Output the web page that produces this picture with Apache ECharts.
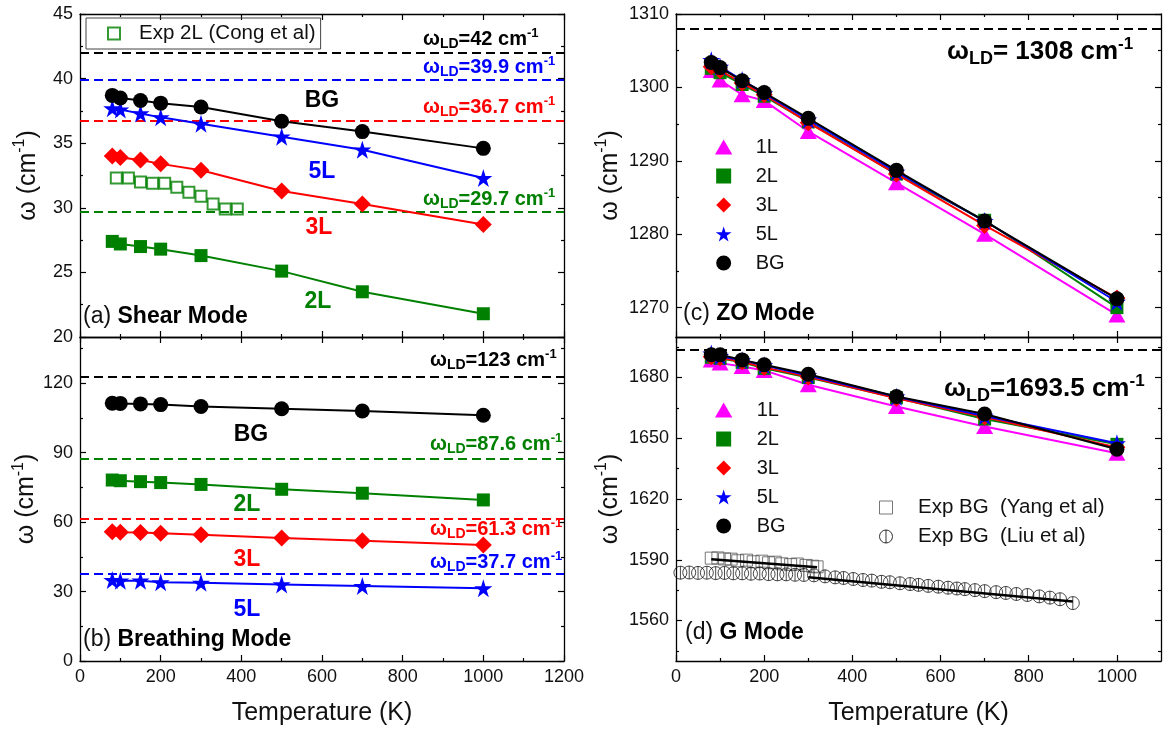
<!DOCTYPE html>
<html><head><meta charset="utf-8">
<script src="https://cdn.jsdelivr.net/npm/echarts@6/dist/echarts.min.js"></script>
<style>html,body{margin:0;padding:0;background:#fff}#c{width:1170px;height:731px}</style>
</head><body><div id="c"></div>
<script>
// ---------------- data ----------------
const tempTheory = [80, 100, 150, 200, 300, 500, 700, 1000];
// (a) shear mode
const shearBG = [38.7, 38.5, 38.3, 38.1, 37.8, 36.7, 35.9, 34.6];
const shear5L = [37.7, 37.6, 37.3, 37.0, 36.5, 35.5, 34.5, 32.3];
const shear3L = [34.0, 33.9, 33.7, 33.4, 32.9, 31.3, 30.3, 28.7];
const shear2L = [27.4, 27.2, 27.0, 26.8, 26.3, 25.1, 23.5, 21.8];
const congTemp = [90, 120, 150, 180, 210, 240, 270, 300, 330, 360, 390];
const cong2L = [32.3, 32.3, 32.0, 31.9, 31.9, 31.6, 31.2, 30.9, 30.3, 29.9, 29.9];
const ldShear = [42, 39.9, 36.7, 29.7];
// (b) breathing mode
const breathBG = [111.4, 111.3, 111.1, 110.8, 110.0, 109.0, 108.0, 106.2];
const breath2L = [78.2, 77.9, 77.5, 77.1, 76.3, 74.2, 72.5, 69.6];
const breath3L = [55.9, 55.6, 55.5, 55.2, 54.6, 53.2, 52.0, 50.1];
const breath5L = [35.0, 34.7, 34.7, 34.0, 33.8, 33.1, 32.4, 31.4];
const ldBreath = [123, 87.6, 61.3, 37.7];
// (c) ZO mode
const zo1L = [1302.3, 1301.0, 1299.0, 1298.2, 1294.0, 1287.0, 1280.0, 1269.0];
const zo2L = [1302.6, 1302.0, 1300.4, 1298.8, 1295.3, 1288.2, 1281.9, 1270.0];
const zo3L = [1302.8, 1302.3, 1300.6, 1299.0, 1295.2, 1288.2, 1281.2, 1271.3];
const zo5L = [1303.7, 1302.8, 1301.0, 1299.2, 1295.6, 1288.5, 1281.8, 1270.8];
const zoBG = [1303.4, 1302.7, 1300.9, 1299.3, 1295.8, 1288.7, 1281.8, 1271.2];
const ldZO = [1308];
// (d) G mode
const g1L = [1688.7, 1687.1, 1685.4, 1683.5, 1676.4, 1665.7, 1655.8, 1642.6];
const g2L = [1690.0, 1689.5, 1687.5, 1684.5, 1680.0, 1670.0, 1659.5, 1647.0];
const g3L = [1690.3, 1689.8, 1687.8, 1685.0, 1680.3, 1669.8, 1660.5, 1645.5];
const g5L = [1691.8, 1690.5, 1688.5, 1686.0, 1681.0, 1670.5, 1661.0, 1647.5];
const gBG = [1691.2, 1691.2, 1688.7, 1686.3, 1681.6, 1670.6, 1662.0, 1644.6];
const yangTemp = [80, 95, 110, 125, 140, 160, 175, 195, 210, 225, 240, 260, 275, 295, 310, 320];
const yangBG = [1590.8, 1590.9, 1590.4, 1590.3, 1589.5, 1589.8, 1589.0, 1589.3, 1588.5, 1588.8, 1588.0, 1587.6, 1587.9, 1587.2, 1586.8, 1586.5];
const liuTemp = [10, 30, 50, 70, 90, 110, 130, 150, 170, 190, 210, 230, 250, 270, 290, 313, 338, 361, 380, 402, 424, 444, 466, 485, 508, 531, 550, 572, 595, 617, 637, 655, 678, 700, 726, 748, 772, 797, 824, 848, 871, 900];
const liuBG = [1583.6, 1583.7, 1583.5, 1583.6, 1583.4, 1583.5, 1583.3, 1583.3, 1583.1, 1583.2, 1582.9, 1582.8, 1582.8, 1582.6, 1582.5, 1582.3, 1581.8, 1581.3, 1581.0, 1580.5, 1580.0, 1579.7, 1579.1, 1578.9, 1578.4, 1578.0, 1577.6, 1577.1, 1576.7, 1576.2, 1575.8, 1575.5, 1575.0, 1574.5, 1574.0, 1573.6, 1573.1, 1572.6, 1571.9, 1571.3, 1570.5, 1568.6];
const yangFitTemp = [80, 320];
const yangFit = [1590.3, 1586.3];
const liuFitTemp = [300, 900];
const liuFit = [1581.4, 1569.4];
const ldG = [1693.5];
// ticks
const xMajorLeft = [0, 200, 400, 600, 800, 1000, 1200];
const xMinorLeft = [100, 300, 500, 700, 900, 1100];
const xMajorRight = [0, 200, 400, 600, 800, 1000];
const xMinorRight = [100, 300, 500, 700, 900];
const yMajorA = [20, 25, 30, 35, 40, 45];
const yMinorA = [22.5, 27.5, 32.5, 37.5, 42.5];
const yMajorB = [0, 30, 60, 90, 120];
const yMinorB = [15, 45, 75, 105, 135];
const yMajorC = [1270, 1280, 1290, 1300, 1310];
const yMinorC = [1275, 1285, 1295, 1305];
const yMajorD = [1560, 1590, 1620, 1650, 1680];
const yMinorD = [1545, 1575, 1605, 1635, 1665, 1695];

// ---------------- styling ----------------
const FF = "'Liberation Sans', Arial, sans-serif";
const BLACK = '#000', BLUE = '#0000ff', RED = '#ff0000', GREEN = '#008000', MAG = '#ff00ff';
const SQUARE = 'path://M0,0L10,0L10,10L0,10Z';
const TRI = 'path://M5,0L10,8.66L0,8.66Z';
const DIAMOND = 'path://M5,0L10,5L5,10L0,5Z';
const STAR = 'path://M50,0L61.23,34.55L97.55,34.55L68.17,55.9L79.39,90.45L50,69.1L20.61,90.45L31.83,55.9L2.45,34.55L38.77,34.55Z';
const LIU = 'path://M10,0A10,10,0,1,1,10,20A10,10,0,1,1,10,0ZM10,0L10,20';
const YNAME = '{a|ω (cm}{s|-1}{a|)}';

function axisSet(dim, gi, min, max, majors, minors, showLabels, name, nameGap) {
  const pos = dim === 'x' ? ['bottom', 'top'] : ['left', 'right'];
  const tickLine = {color: BLACK, width: 1.2};
  const base = {type: 'value', gridIndex: gi, min: min, max: max, splitLine: {show: false}, silent: true};
  const main = Object.assign({}, base, {
    position: pos[0],
    axisLine: {show: true, onZero: false, lineStyle: {color: BLACK, width: 1.3}},
    axisTick: {show: true, inside: true, length: 6, customValues: majors, lineStyle: tickLine},
    axisLabel: showLabels ? {show: true, customValues: majors, margin: 7, fontSize: 18, color: '#111', fontFamily: FF,
      formatter: function (v) { return String(v); }} : {show: false}
  });
  if (name) {
    main.name = name;
    main.nameLocation = 'middle';
    main.nameGap = nameGap;
    main.nameTextStyle = dim === 'x'
      ? {fontSize: 25, color: '#111', fontFamily: FF}
      : {fontSize: 25, color: '#111', fontFamily: FF, rich: {
          a: {fontSize: 25, fontFamily: FF, color: '#111', lineHeight: 32, verticalAlign: 'middle'},
          s: {fontSize: 16, fontFamily: FF, color: '#111', lineHeight: 32, verticalAlign: 'top'}}};
  }
  const opp = Object.assign({}, base, {
    position: pos[1],
    axisLine: {show: true, onZero: false, lineStyle: {color: BLACK, width: 1.3}},
    axisTick: {show: true, inside: true, length: 6, customValues: majors, lineStyle: tickLine},
    axisLabel: {show: false}
  });
  const minA = Object.assign({}, base, {
    position: pos[0], axisLine: {show: false, onZero: false},
    axisTick: {show: true, inside: true, length: 3, customValues: minors, lineStyle: tickLine},
    axisLabel: {show: false}
  });
  const minB = Object.assign({}, base, {
    position: pos[1], axisLine: {show: false, onZero: false},
    axisTick: {show: true, inside: true, length: 3, customValues: minors, lineStyle: tickLine},
    axisLabel: {show: false}
  });
  return [main, opp, minA, minB];
}

const xAxes = [].concat(
  axisSet('x', 0, 0, 1200, xMajorLeft, xMinorLeft, false),
  axisSet('x', 1, 0, 1200, xMajorLeft, xMinorLeft, true, 'Temperature (K)', 40),
  axisSet('x', 2, 0, 1100, xMajorRight, xMinorRight, false),
  axisSet('x', 3, 0, 1100, xMajorRight, xMinorRight, true, 'Temperature (K)', 40)
);
const yAxes = [].concat(
  axisSet('y', 0, 20, 45, yMajorA, yMinorA, true, YNAME, 36),
  axisSet('y', 1, 0, 140, yMajorB, yMinorB, true, YNAME, 36),
  axisSet('y', 2, 1266, 1310, yMajorC, yMinorC, true, YNAME, 50),
  axisSet('y', 3, 1540, 1700, yMajorD, yMinorD, true, YNAME, 50)
);

function pairs(xs, ys) { return xs.map(function (x, i) { return [x, ys[i]]; }); }

function lineS(name, gi, ys, color, symbol, size, z) {
  return {type: 'line', name: name, xAxisIndex: 4 * gi, yAxisIndex: 4 * gi,
    data: pairs(tempTheory, ys), symbol: symbol, symbolSize: size, showSymbol: true,
    lineStyle: {color: color, width: 2}, itemStyle: {color: color},
    emphasis: {disabled: true}, z: z || 3, animation: false};
}
function markLines(values, colors) {
  return {silent: true, symbol: ['none', 'none'], label: {show: false}, z: 1,
    emphasis: {disabled: true},
    data: values.map(function (v, i) {
      return {yAxis: v, lineStyle: {color: colors[i], type: [9, 5], width: 2}};
    })};
}

const SZ = {circle: 15, square: 13, diamond: 17, star: 18, tri: [17, 15]};
const series = [];
// (a)
const sA = lineS('BG', 0, shearBG, BLACK, 'circle', SZ.circle, 6);
sA.markLine = markLines(ldShear, [BLACK, BLUE, RED, GREEN]);
series.push(
  {type: 'scatter', name: 'Exp 2L (Cong et al)', xAxisIndex: 0, yAxisIndex: 0, data: pairs(congTemp, cong2L),
    symbol: SQUARE, symbolSize: 11, itemStyle: {color: 'transparent', borderColor: GREEN, borderWidth: 2}, z: 2, animation: false},
  lineS('2L', 0, shear2L, GREEN, SQUARE, SZ.square),
  lineS('3L', 0, shear3L, RED, DIAMOND, SZ.diamond),
  lineS('5L', 0, shear5L, BLUE, STAR, SZ.star, 5),
  sA
);
// (b)
const sB = lineS('BG', 1, breathBG, BLACK, 'circle', SZ.circle);
sB.markLine = markLines(ldBreath, [BLACK, GREEN, RED, BLUE]);
series.push(sB,
  lineS('2L', 1, breath2L, GREEN, SQUARE, SZ.square),
  lineS('3L', 1, breath3L, RED, DIAMOND, SZ.diamond),
  lineS('5L', 1, breath5L, BLUE, STAR, SZ.star));
// (c)
const sC = lineS('1L', 2, zo1L, MAG, TRI, SZ.tri, 3);
sC.markLine = markLines(ldZO, [BLACK]);
series.push(sC,
  lineS('2L', 2, zo2L, GREEN, SQUARE, SZ.square, 4),
  lineS('3L', 2, zo3L, RED, DIAMOND, SZ.diamond, 5),
  lineS('5L', 2, zo5L, BLUE, STAR, SZ.star, 6),
  lineS('BG', 2, zoBG, BLACK, 'circle', SZ.circle, 7));
// (d)
const sD = lineS('1L', 3, g1L, MAG, TRI, SZ.tri, 3);
sD.markLine = markLines(ldG, [BLACK]);
series.push(
  {type: 'scatter', name: 'Exp BG  (Yang et al)', xAxisIndex: 12, yAxisIndex: 12, data: pairs(yangTemp, yangBG),
    symbol: SQUARE, symbolSize: 12, itemStyle: {color: 'transparent', borderColor: '#555', borderWidth: 1}, z: 2, animation: false},
  {type: 'scatter', name: 'Exp BG  (Liu et al)', xAxisIndex: 12, yAxisIndex: 12, data: pairs(liuTemp, liuBG),
    symbol: LIU, symbolSize: 13, itemStyle: {color: 'transparent', borderColor: BLACK, borderWidth: 0.9}, z: 2, animation: false},
  {type: 'line', name: 'fitYang', xAxisIndex: 12, yAxisIndex: 12, data: pairs(yangFitTemp, yangFit), symbol: 'none',
    lineStyle: {color: BLACK, width: 2.5}, z: 3, animation: false},
  {type: 'line', name: 'fitLiu', xAxisIndex: 12, yAxisIndex: 12, data: pairs(liuFitTemp, liuFit), symbol: 'none',
    lineStyle: {color: BLACK, width: 2.5}, z: 3, animation: false},
  sD,
  lineS('2L', 3, g2L, GREEN, SQUARE, SZ.square, 4),
  lineS('3L', 3, g3L, RED, DIAMOND, SZ.diamond, 5),
  lineS('5L', 3, g5L, BLUE, STAR, SZ.star, 6),
  lineS('BG', 3, gBG, BLACK, 'circle', SZ.circle, 7));

// ---------------- text annotations ----------------
function ldLabel(x, y, text, color, size) {
  const lh = Math.round(size * 1.25);
  const tok = function (fs, va) { return {fontSize: fs, fontWeight: 'bold', fontFamily: FF, fill: color, lineHeight: lh, verticalAlign: va}; };
  return {type: 'text', x: x, y: y, silent: true, z: 50, style: {
    text: '{w|ω}{s|LD}{w|=' + text + ' cm}{p|-1}', align: 'left', verticalAlign: 'middle',
    rich: {w: tok(size, 'middle'), s: tok(Math.round(size * 0.7), 'bottom'), p: tok(Math.round(size * 0.65), 'top')}}};
}
function bold(x, y, text, color) {
  return {type: 'text', x: x, y: y, silent: true, z: 50, style: {text: text, fill: color, fontSize: 23, fontWeight: 'bold',
    fontFamily: FF, align: 'center', verticalAlign: 'middle'}};
}
function panelLabel(x, y, tag, title) {
  return {type: 'text', x: x, y: y, silent: true, z: 50, style: {
    text: '{n|' + tag + ' }{b|' + title + '}', align: 'left', verticalAlign: 'middle',
    rich: {n: {fontSize: 23, fontFamily: FF, fill: '#111'}, b: {fontSize: 23, fontWeight: 'bold', fontFamily: FF, fill: BLACK}}}};
}
const graphics = [
  ldLabel(423, 39, String(ldShear[0]), BLACK, 20),
  ldLabel(423, 67, String(ldShear[1]), BLUE, 20),
  ldLabel(423, 107, String(ldShear[2]), RED, 20),
  ldLabel(423, 199, String(ldShear[3]), GREEN, 20),
  ldLabel(430, 360, String(ldBreath[0]), BLACK, 20),
  ldLabel(430, 444, String(ldBreath[1]), GREEN, 20),
  ldLabel(430, 529, String(ldBreath[2]), RED, 20),
  ldLabel(430, 562, String(ldBreath[3]), BLUE, 20),
  ldLabel(947, 52, ' ' + ldZO[0], BLACK, 26),
  ldLabel(944, 389, String(ldG[0]), BLACK, 26),
  bold(322, 101, 'BG', BLACK), bold(322, 172, '5L', BLUE), bold(319, 228, '3L', RED), bold(318, 302, '2L', GREEN),
  bold(251, 435, 'BG', BLACK), bold(247, 505, '2L', GREEN), bold(247, 560, '3L', RED), bold(247, 610, '5L', BLUE),
  panelLabel(83, 317, '(a)', 'Shear Mode'),
  panelLabel(83, 640, '(b)', 'Breathing Mode'),
  panelLabel(683, 314, '(c)', 'ZO Mode'),
  panelLabel(685, 633, '(d)', 'G Mode')
];

const legTxt = {fontSize: 20, color: '#111', fontFamily: FF};
const theoryLegendData = [
  {name: '1L', icon: TRI}, {name: '2L', icon: SQUARE}, {name: '3L', icon: DIAMOND},
  {name: '5L', icon: STAR}, {name: 'BG', icon: 'circle'}];
const legends = [
  {left: 86, top: 18, orient: 'horizontal', padding: [5, 5, 5, 21], borderColor: '#444', borderWidth: 1, borderRadius: 0,
    itemWidth: 40, itemHeight: 12, selectedMode: false, textStyle: {fontSize: 20.5, color: '#111', fontFamily: FF},
    data: [{name: 'Exp 2L (Cong et al)', icon: SQUARE, itemStyle: {color: 'transparent', borderColor: GREEN, borderWidth: 2}}]},
  {left: 715, top: 137, orient: 'vertical', padding: 0, itemGap: 9, itemWidth: 54, itemHeight: 15, selectedMode: false,
    textStyle: legTxt, data: theoryLegendData},
  {left: 715, top: 400, orient: 'vertical', padding: 0, itemGap: 9, itemWidth: 56, itemHeight: 15, selectedMode: false,
    textStyle: legTxt, data: theoryLegendData},
  {left: 879, top: 497, orient: 'vertical', padding: 0, itemGap: 8, itemWidth: 54, itemHeight: 13, selectedMode: false,
    textStyle: {fontSize: 20.5, color: '#111', fontFamily: FF}, data: [
      {name: 'Exp BG  (Yang et al)', icon: SQUARE, itemStyle: {color: 'transparent', borderColor: '#555', borderWidth: 1}},
      {name: 'Exp BG  (Liu et al)', icon: LIU, itemStyle: {color: 'transparent', borderColor: BLACK, borderWidth: 1}}]}
];

const chart = echarts.init(document.getElementById('c'), null, {renderer: 'canvas'});
chart.setOption({
  animation: false,
  backgroundColor: '#fff',
  textStyle: {fontFamily: FF},
  grid: [
    {left: 80, top: 14, width: 484, height: 323, containLabel: false, outerBoundsMode: 'none'},
    {left: 80, top: 337, width: 484, height: 324, containLabel: false, outerBoundsMode: 'none'},
    {left: 676, top: 14, width: 485, height: 323, containLabel: false, outerBoundsMode: 'none'},
    {left: 676, top: 337, width: 485, height: 324, containLabel: false, outerBoundsMode: 'none'}
  ],
  xAxis: xAxes,
  yAxis: yAxes,
  legend: legends,
  series: series,
  graphic: graphics
});
</script></body></html>
